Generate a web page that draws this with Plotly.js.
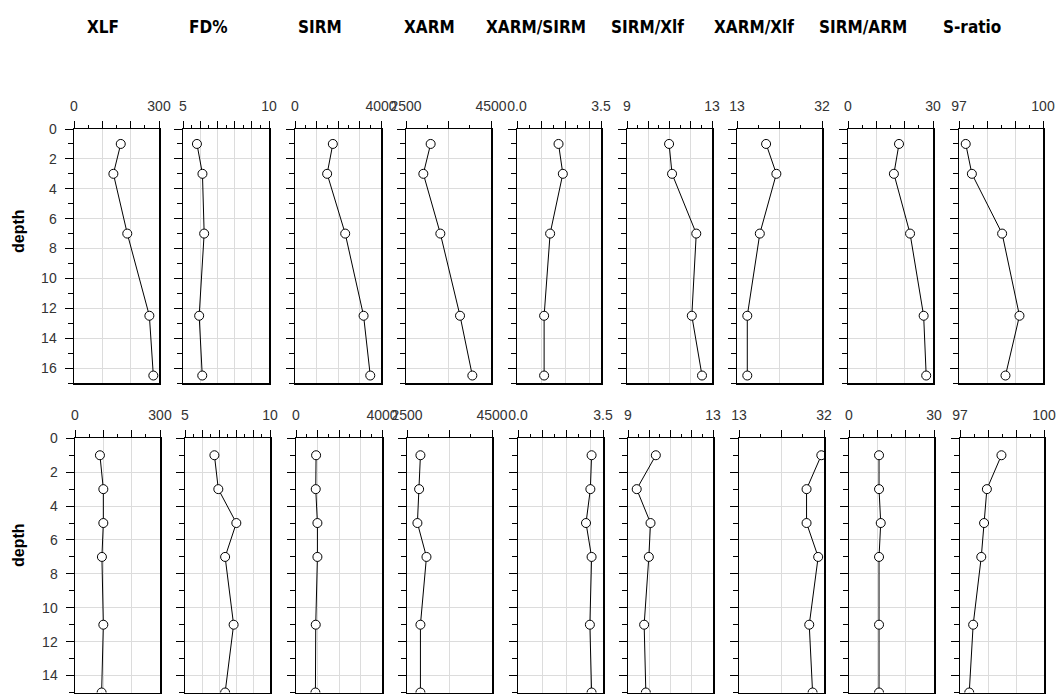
<!DOCTYPE html>
<html><head><meta charset="utf-8">
<script src="https://cdn.plot.ly/plotly-3.0.1.min.js"></script>
<style>html,body{margin:0;padding:0;background:#fff}#chart{width:1059px;height:695px}</style>
</head><body><div id="chart"></div>
<script>
// ---- data ----
const variables = ['XLF','FD%','SIRM','XARM','XARM/SIRM','SIRM/Xlf','XARM/Xlf','SIRM/ARM','S-ratio'];
const leftLabels  = ['0','5','0','2500','0.0','9','13','0','97'];
const rightLabels = ['300','10','4000','4500','3.5','13','32','30','100'];

const depthTop    = [1, 3, 7, 12.5, 16.5];
const depthBottom = [1, 3, 5, 7, 11, 15];

// upper core
const xlfTop       = [165, 139, 188, 266, 280];
const fdTop        = [5.81, 6.13, 6.23, 5.94, 6.12];
const sirmTop      = [1760, 1495, 2335, 3190, 3500];
const xarmTop      = [3080, 2908, 3308, 3771, 4061];
const xarmSirmTop  = [1.73, 1.91, 1.38, 1.13, 1.13];
const sirmXlfTop   = [10.98, 11.12, 12.26, 12.05, 12.53];
const xarmXlfTop   = [19.5, 21.8, 18.1, 15.3, 15.3];
const sirmArmTop   = [18.0, 16.2, 21.9, 26.7, 27.6];
const sRatioTop    = [97.24, 97.46, 98.54, 99.16, 98.66];

// lower core
const xlfBottom      = [88, 100, 100, 95, 100, 94];
const fdBottom       = [6.73, 6.96, 8.02, 7.36, 7.86, 7.36];
const sirmBottom     = [934, 918, 996, 996, 918, 903];
const xarmBottom     = [2816, 2785, 2745, 2958, 2816, 2816];
const xarmSirmBottom = [3.03, 2.98, 2.80, 3.03, 2.96, 3.03];
const sirmXlfBottom  = [10.31, 9.41, 10.06, 9.98, 9.76, 9.84];
const xarmXlfBottom  = [31.4, 28.1, 28.1, 30.7, 28.7, 29.45];
const sirmArmBottom  = [10.6, 10.6, 11.2, 10.6, 10.6, 10.6];
const sRatioBottom   = [98.48, 97.96, 97.86, 97.76, 97.47, 97.33];

const seriesTop = [xlfTop, fdTop, sirmTop, xarmTop, xarmSirmTop, sirmXlfTop, xarmXlfTop, sirmArmTop, sRatioTop];
const seriesBottom = [xlfBottom, fdBottom, sirmBottom, xarmBottom, xarmSirmBottom, sirmXlfBottom, xarmXlfBottom, sirmArmBottom, sRatioBottom];

// axis scales
const xRanges = [[0,300],[5,10],[0,4000],[2500,4500],[0,3.5],[9,13],[13,32],[0,30],[97,100]];
const xMajor = [[0,100,200,300],[5,6,7,8,9,10],[0,1000,2000,3000,4000],[2500,3500,4500],[0,1,2,3,3.5],[9,10,11,12,13],[13,22.5,32],[0,10,20,30],[97,98,99,100]];
const xMinor = [[50,150,250],[5.5,6.5,7.5,8.5,9.5],[500,1500,2500,3500],[3000,4000],[0.5,1.5,2.5],[9.5,10.5,11.5,12.5],[17.75,27.25],[5,15,25],[97.5,98.5,99.5]];

// ---- layout geometry (px) ----
const W = 1059, H = 695;
const topDom = [[74,159],[183,269],[295,381],[406,491],[517,601],[627,712],[737,822],[848,933],[959,1043]];
const botDom = [[75,160],[185,270],[296,382],[407,492],[518,603],[628,713],[739,824],[849,934],[960,1044]];
const rows = [
  {dom: topDom, y: [129, 383], depth: depthTop, series: seriesTop, yr: 17, title: 231},
  {dom: botDom, y: [438.3, 692.5], depth: depthBottom, series: seriesBottom, yr: 15, title: 545}
];
const titleX = [103, 208, 320, 429, 536, 647, 754, 863, 972];

const tickFont = {family: 'Liberation Sans, Arial, sans-serif', size: 14, color: '#333'};
const traces = [];
const layout = {
  width: W, height: H, margin: {l:0, r:0, t:0, b:0},
  paper_bgcolor: '#fff', plot_bgcolor: '#fff', showlegend: false,
  annotations: []
};
const NP = 18; // number of panels

rows.forEach((row, r) => {
  for (let c = 0; c < 9; c++) {
    const idx = r*9 + c + 1;
    const sfx = idx === 1 ? '' : String(idx);
    const mfx = String(idx + NP); // overlay axes carrying minor ticks
    traces.push({
      x: row.series[c], y: row.depth,
      xaxis: 'x' + sfx, yaxis: 'y' + sfx,
      mode: 'lines+markers', type: 'scatter',
      line: {color: '#000', width: 1},
      marker: {symbol: 'circle', size: 9, color: '#fff', line: {color: '#000', width: 1}},
      cliponaxis: true, hoverinfo: 'skip', showlegend: false
    });
    const xDomain = [row.dom[c][0]/W, row.dom[c][1]/W];
    const yDomain = [1 - row.y[1]/H, 1 - row.y[0]/H];
    const maj = xMajor[c];
    layout['xaxis' + sfx] = {
      domain: xDomain, range: xRanges[c], side: 'top', anchor: 'y' + sfx,
      tickmode: 'array', tickvals: maj,
      ticktext: maj.map((v,k) => k === 0 ? leftLabels[c] : (k === maj.length-1 ? rightLabels[c] : '')),
      ticks: 'outside', ticklen: 7, tickwidth: 1, tickcolor: '#000',
      ticklabelstandoff: 4,
      showline: true, mirror: true, linecolor: '#000', linewidth: 1.5,
      showgrid: true, gridcolor: '#dcdcdc', gridwidth: 1, zeroline: false,
      tickfont: tickFont, fixedrange: true
    };
    const ymaj = [], ymin = [];
    for (let d = 0; d <= row.yr; d++) { (d % 2 === 0 ? ymaj : ymin).push(d); }
    layout['yaxis' + sfx] = {
      domain: yDomain, range: [row.yr, 0], anchor: 'x' + sfx,
      tickmode: 'array', tickvals: ymaj,
      ticks: 'outside', ticklen: 8, tickwidth: 1, tickcolor: '#000',
      ticklabelstandoff: 5,
      showticklabels: c === 0,
      showline: true, mirror: true, linecolor: '#000', linewidth: 1.5,
      showgrid: true, gridcolor: '#dcdcdc', gridwidth: 1, zeroline: false,
      tickfont: tickFont, fixedrange: true
    };
    // minor-tick overlay axes
    layout['xaxis' + mfx] = {
      domain: xDomain, range: xRanges[c], side: 'top', anchor: 'y' + mfx, overlaying: 'x' + sfx,
      tickmode: 'array', tickvals: xMinor[c], ticks: 'outside', ticklen: 3, tickwidth: 1, tickcolor: '#000',
      showticklabels: false, showgrid: false, showline: false, zeroline: false, fixedrange: true
    };
    layout['yaxis' + mfx] = {
      domain: yDomain, range: [row.yr, 0], side: 'left', anchor: 'x' + mfx, overlaying: 'y' + sfx,
      tickmode: 'array', tickvals: ymin, ticks: 'outside', ticklen: 5, tickwidth: 1, tickcolor: '#000',
      showticklabels: false, showgrid: false, showline: false, zeroline: false, fixedrange: true
    };
    traces.push({x: [], y: [], xaxis: 'x' + mfx, yaxis: 'y' + mfx, type: 'scatter', mode: 'markers',
                 hoverinfo: 'skip', showlegend: false});
  }
  layout.annotations.push({
    text: '<b>depth</b>', xref: 'paper', yref: 'paper',
    x: 18/W, y: 1 - row.title/H, textangle: -90, showarrow: false,
    xanchor: 'center', yanchor: 'middle',
    font: {family: 'Liberation Sans, Arial, sans-serif', size: 16, color: '#000'}
  });
});

variables.forEach((v, c) => {
  layout.annotations.push({
    text: '<b>' + v + '</b>', xref: 'paper', yref: 'paper',
    x: titleX[c]/W, y: 1 - 27/H, showarrow: false,
    xanchor: 'center', yanchor: 'middle',
    font: {family: 'Liberation Sans Narrow, Arial Narrow, DejaVu Sans Condensed, sans-serif', size: 17, color: '#000'}
  });
});

Plotly.newPlot('chart', traces, layout, {displayModeBar: false, staticPlot: true});
</script></body></html>
